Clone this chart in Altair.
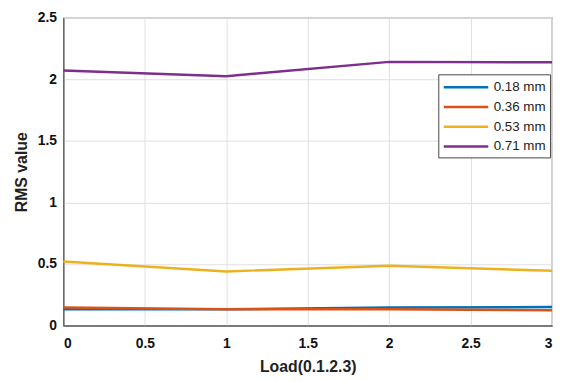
import altair as alt
import pandas as pd

loads = [0, 1, 2, 3]
series_names = ["0.18 mm", "0.36 mm", "0.53 mm", "0.71 mm"]
v018 = [0.133, 0.133, 0.146, 0.151]
v036 = [0.146, 0.133, 0.133, 0.125]
v053 = [0.52, 0.44, 0.487, 0.445]
v071 = [2.072, 2.027, 2.143, 2.139]
colors = ["#0072BD", "#D95319", "#EDB120", "#7E2F8E"]

rows = []
for name, vals in zip(series_names, [v018, v036, v053, v071]):
    for x, v in zip(loads, vals):
        rows.append({"Load": x, "RMS": v, "Series": name})
df = pd.DataFrame(rows)

chart = alt.Chart(df).mark_line(strokeWidth=2.5).encode(
    x=alt.X("Load:Q", scale=alt.Scale(domain=[0, 3], nice=False),
            axis=alt.Axis(title="Load(0.1.2.3)", values=[0, 0.5, 1, 1.5, 2, 2.5, 3],
                          format=".2~f", ticks=False, labelPadding=11, titlePadding=8)),
    y=alt.Y("RMS:Q", scale=alt.Scale(domain=[0, 2.5], nice=False),
            axis=alt.Axis(title="RMS value", values=[0, 0.5, 1, 1.5, 2, 2.5],
                          format=".2~f", ticks=False, labelPadding=7, titlePadding=8)),
    color=alt.Color("Series:N", sort=series_names,
                    scale=alt.Scale(domain=series_names, range=colors),
                    legend=alt.Legend(title=None, orient="none", legendX=379, legendY=57,
                                      symbolType="M-1,0L5,0", symbolSize=225,
                                      symbolStrokeWidth=2.5, labelFontSize=13.5,
                                      labelFont="Liberation Sans", labelColor="#222",
                                      fillColor="white", strokeColor="#444",
                                      padding=4, rowPadding=4, labelOffset=34)),
    order=alt.Order("Load:Q"),
).properties(
    width=494, height=311,
    autosize=alt.AutoSizeParams(type="none"),
    padding={"left": 56, "top": 8, "right": 5, "bottom": 55},
).configure_view(
    stroke="#444", strokeWidth=1.2
).configure_axis(
    grid=True, gridColor="#e0e0e0", domainColor="#444",
    labelFont="Liberation Sans", labelFontWeight="bold", labelFontSize=14, labelColor="#111",
    titleFont="Liberation Sans", titleFontWeight="bold", titleFontSize=16, titleColor="#222",
)

chart.save("out.html", embed_options={"renderer": "svg", "actions": False})
